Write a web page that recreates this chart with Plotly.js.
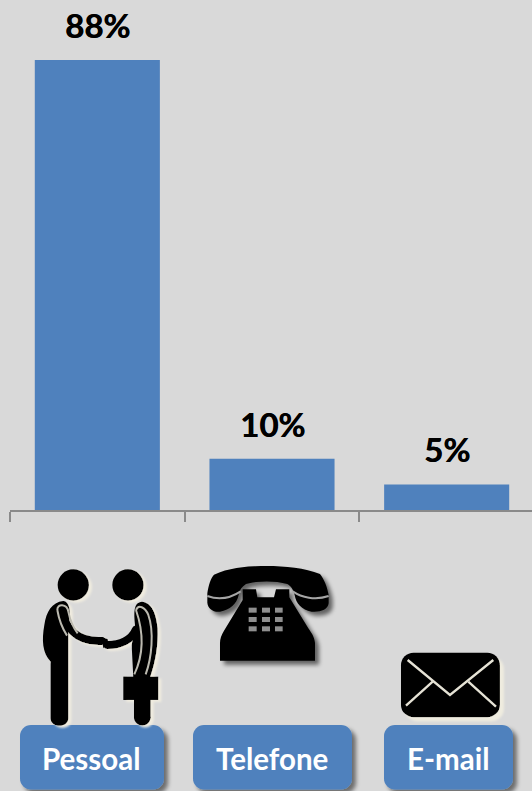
<!DOCTYPE html>
<html>
<head>
<meta charset="utf-8">
<script src="https://cdn.plot.ly/plotly-3.0.1.min.js"></script>
<style>html,body{margin:0;padding:0;background:#d9d9d9;overflow:hidden}</style>
</head>
<body>
<div id="chart" style="width:532px;height:791px"></div>
<script>
const categories = ["Pessoal", "Telefone", "E-mail"];
const values = [88, 10, 5];
const valueLabels = ["88%", "10%", "5%"];

const W = 532, H = 791;
const plotL = 10, plotBottom = 510;
const plotW = W - plotL;
const unitX = 174.67;
const paperX = px => (px - plotL) / plotW;
const paperY = py => 1 - py / plotBottom;

const defs = `
<filter id="soft" x="-20%" y="-20%" width="150%" height="150%">
  <feGaussianBlur in="SourceAlpha" stdDeviation="2.2"/>
  <feOffset dx="4" dy="4"/>
  <feComponentTransfer><feFuncA type="linear" slope="0.5"/></feComponentTransfer>
  <feMerge><feMergeNode/><feMergeNode in="SourceGraphic"/></feMerge>
</filter>
<filter id="softBig" x="-20%" y="-20%" width="150%" height="150%">
  <feGaussianBlur in="SourceAlpha" stdDeviation="7"/>
  <feOffset dx="11" dy="11"/>
  <feComponentTransfer><feFuncA type="linear" slope="0.55"/></feComponentTransfer>
  <feMerge><feMergeNode/><feMergeNode in="SourceGraphic"/></feMerge>
</filter>
<filter id="glow" x="-20%" y="-20%" width="150%" height="150%">
  <feGaussianBlur in="SourceGraphic" stdDeviation="1.5" result="g"/>
  <feGaussianBlur in="SourceAlpha" stdDeviation="2.4" result="b"/>
  <feOffset in="b" dx="9" dy="7.5" result="o"/>
  <feFlood flood-color="#f0ecdf"/>
  <feComposite in2="o" operator="in" result="s"/>
  <feMerge><feMergeNode in="s"/><feMergeNode in="g"/></feMerge>
</filter>
<filter id="glowBig" x="-20%" y="-20%" width="150%" height="150%">
  <feGaussianBlur in="SourceAlpha" stdDeviation="3" result="b"/>
  <feOffset in="b" dx="13" dy="13" result="o"/>
  <feFlood flood-color="#efecdf"/>
  <feComposite in2="o" operator="in" result="s"/>
  <feMerge><feMergeNode in="s"/><feMergeNode in="SourceGraphic"/></feMerge>
</filter>
<filter id="blurLine" x="-20%" y="-20%" width="140%" height="140%"><feGaussianBlur stdDeviation="1.2"/></filter>`;

const buttonRects = [[20, 725, 144, 64.5], [193, 725, 159, 64.5], [384, 725, 129, 64.5]];

const buttonsSvg = buttonRects.map(r =>
  `<rect x="${r[0]}" y="${r[1]}" width="${r[2]}" height="${r[3]}" rx="11" fill="#4f81bd" filter="url(#soft)"/>`).join("");

const phoneSvg = `<g transform="translate(200 560) scale(0.3333)">
<g filter="url(#softBig)">
<path fill="#000" d="M22 100 C26 75 32 55 42 44 C90 22 150 18 200 18 C255 18 315 24 360 42 C372 58 382 80 386 105 L386 130 C384 150 360 157 335 155 C305 150 288 130 284 105 C280 88 272 78 262 72 C225 62 175 62 138 72 C126 80 118 90 116 105 C110 132 90 150 60 155 C38 157 24 145 22 128 Z"/>
<path fill="#000" d="M60 302 L345 302 L345 248 C342 228 335 220 325 205 L268 112 L268 88 L228 88 L222 112 L172 112 L168 88 L128 88 L128 120 L72 212 C64 226 60 235 60 250 Z"/>
</g>
<path fill="none" stroke="#a6a6a6" stroke-width="6" d="M22 108 C60 122 95 112 122 94"/>
<path fill="none" stroke="#a6a6a6" stroke-width="6" d="M278 94 C305 112 345 122 386 108"/>
<g fill="#8f8f8f">
<rect x="146" y="143" width="24" height="15"/><rect x="186" y="143" width="24" height="15"/><rect x="225" y="143" width="23" height="15"/>
<rect x="146" y="171" width="24" height="15"/><rect x="186" y="171" width="24" height="15"/><rect x="225" y="171" width="23" height="15"/>
<rect x="146" y="199" width="24" height="15"/><rect x="186" y="199" width="24" height="15"/><rect x="225" y="199" width="23" height="15"/>
</g></g>`;

const peopleSvg = `<g transform="translate(35 565) scale(0.3333)"><g filter="url(#glow)">
<circle cx="115" cy="60" r="47"/><circle cx="279" cy="60" r="47"/>
<path d="M85 108 C50 112 34 140 28 180 C20 225 22 265 47 290 L47 460 C47 490 100 490 100 460 L100 190 C108 150 108 110 85 108 Z"/>
<path d="M320 110 C350 112 364 145 368 190 C370 240 362 290 345 338 L295 338 L290 240 L300 180 C296 140 296 112 320 110 Z"/>
<rect x="265" y="335" width="105" height="70"/>
<rect x="297" y="400" width="50" height="60"/>
<path d="M297 455 C297 490 347 490 347 455 Z"/>
<path fill="none" stroke="#000" stroke-width="24" stroke-linecap="round" d="M78 130 C88 180 120 232 200 228"/>
<path fill="none" stroke="#000" stroke-width="24" stroke-linecap="round" d="M302 195 C290 225 255 240 218 240"/>
<path d="M198 216 L218 222 L222 240 L205 250 Z"/>
</g>
<g fill="none" stroke="#bcbab0" stroke-width="6" filter="url(#blurLine)">
<path d="M67 135 C66 115 96 115 100 140 C104 160 112 185 128 205"/>
<path d="M67 135 C72 165 82 190 96 212"/>
<path d="M303 135 C310 118 330 125 340 150 C358 200 350 280 332 328"/>
<path d="M303 135 C322 190 330 260 298 328"/>
</g></g>`;

const mailSvg = `<g transform="translate(266 540) scale(0.3333)"><g filter="url(#glowBig)">
<rect x="405" y="338" width="297" height="194" rx="38" fill="#000"/></g>
<g fill="none" stroke="#e6e3d6" stroke-width="7">
<path d="M425 360 L552 465 L682 360"/>
<path d="M420 497 L500 425"/>
<path d="M690 500 L607 425"/>
</g></g>`;

function overlay(inner){
  const svg = `<svg xmlns="http://www.w3.org/2000/svg" width="${W}" height="${H}" viewBox="0 0 ${W} ${H}"><defs>${defs}</defs>${inner}</svg>`;
  return {
    source: "data:image/svg+xml;charset=utf-8," + encodeURIComponent(svg),
    xref: "paper", yref: "paper",
    x: paperX(0), y: paperY(0),
    sizex: W / plotW, sizey: H / plotBottom,
    xanchor: "left", yanchor: "top",
    sizing: "stretch", layer: "above"
  };
}

const valueAnnotations = categories.map((c, i) => ({
  x: c, y: values[i], xref: "x", yref: "y",
  text: "<b>" + valueLabels[i] + "</b>",
  showarrow: false, xanchor: "center", yanchor: "bottom", yshift: 13,
  font: {family: "Lato, sans-serif", size: 33, weight: 900, color: "#000", shadow: "0.5px 0 0 #000"}
}));

const buttonAnnotations = categories.map((c, i) => ({
  x: paperX(buttonRects[i][0] + buttonRects[i][2] / 2 - 0.5), y: paperY(758),
  xref: "paper", yref: "paper",
  text: "<b>" + c + "</b>",
  showarrow: false, xanchor: "center", yanchor: "middle",
  font: {family: "Lato, sans-serif", size: 29.5, color: "#fff"}
}));

Plotly.newPlot("chart", [{
  type: "bar",
  x: categories,
  y: values,
  marker: {color: "#4f81bd"},
  hoverinfo: "skip"
}], {
  width: W, height: H,
  margin: {l: plotL, r: 0, t: 0, b: H - plotBottom, pad: 0},
  paper_bgcolor: "#d9d9d9",
  plot_bgcolor: "#d9d9d9",
  showlegend: false,
  bargap: 0.284,
  xaxis: {
    type: "category",
    categoryorder: "array", categoryarray: categories,
    range: [-0.5, plotW / unitX - 0.5],
    showline: true, linecolor: "#8a8a8a", linewidth: 2,
    ticks: "outside", tickson: "boundaries", ticklen: 10, tickwidth: 2, tickcolor: "#8a8a8a",
    showticklabels: false, showgrid: false, zeroline: false, fixedrange: true
  },
  yaxis: {
    range: [0, plotBottom / 5.114],
    visible: false, showgrid: false, zeroline: false, fixedrange: true
  },
  images: [overlay(buttonsSvg + phoneSvg + peopleSvg + mailSvg)],
  annotations: valueAnnotations.concat(buttonAnnotations)
}, {displayModeBar: false, staticPlot: true});
</script>
</body>
</html>
